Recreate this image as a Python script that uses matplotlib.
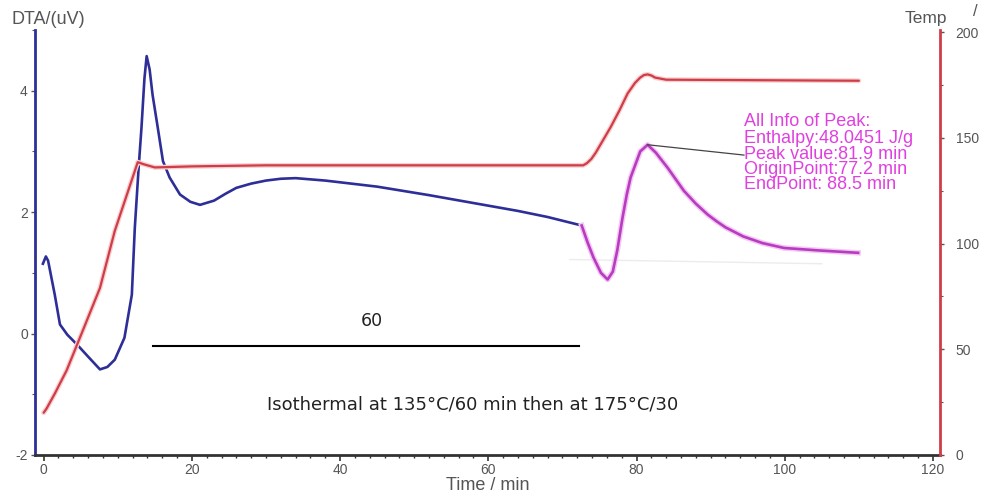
import matplotlib
matplotlib.use("Agg")
import matplotlib.pyplot as plt
import matplotlib.patheffects as pe
from matplotlib.ticker import MultipleLocator

plt.rcParams["axes.unicode_minus"] = False

# ---------------- data ----------------
dta_t = [-0.1, 0.3, 0.6, 1.5, 2.2, 3.2, 4.5, 6.0, 7.6, 8.6, 9.6, 10.9, 11.9, 12.3,
         12.8, 13.2, 13.6, 13.9, 14.3, 14.7, 15.4, 16.1, 17.0, 18.4, 19.8, 21.1,
         23.0, 24.5, 26.0, 28.0, 30.0, 32.0, 34.0, 38.0, 45.0, 52.0, 58.0, 64.0, 68.0, 72.6]
dta_v = [1.15, 1.27, 1.2, 0.64, 0.15, -0.02, -0.18, -0.38, -0.59, -0.55, -0.43, -0.07, 0.64, 1.74,
         2.7, 3.39, 4.2, 4.57, 4.35, 3.93, 3.39, 2.84, 2.57, 2.29, 2.17, 2.12,
         2.19, 2.3, 2.4, 2.47, 2.52, 2.55, 2.56, 2.52, 2.42, 2.28, 2.15, 2.02, 1.92, 1.78]

peak_t = [72.6, 73.4, 74.2, 75.2, 76.1, 76.8, 77.4, 78.1, 78.7, 79.2, 80.5, 81.5,
          82.6, 84.2, 85.3, 86.4, 88.0, 89.6, 90.8, 92.0, 94.4, 97.0, 99.9, 104.5, 109.9]
peak_v = [1.78, 1.5, 1.25, 1.0, 0.89, 1.02, 1.37, 1.9, 2.3, 2.57, 3.0, 3.11,
          2.98, 2.73, 2.54, 2.35, 2.14, 1.96, 1.85, 1.75, 1.6, 1.49, 1.41, 1.37, 1.33]

temp_t = [0.0, 0.4, 1.5, 3.1, 5.3, 7.6, 9.6, 12.7, 13.5, 15.0, 20.0, 30.0, 72.8,
          73.3, 73.9, 74.5, 75.5, 76.5, 77.7, 78.8, 79.8, 80.5, 81.0, 81.5, 82.0, 82.5, 84.0, 110.0]
temp_v = [20, 22, 29, 40, 59, 79, 106, 138.5, 137.5, 136, 136.5, 137, 137,
          138, 140, 143, 149, 155, 163, 171, 176, 178.5, 179.7, 180, 179.5, 178.5, 177.5, 177]

baseline_t = [71.0, 105.0]
baseline_v = [1.22, 1.15]

peak_info = ["All Info of Peak:", "Enthalpy:48.0451 J/g", "Peak value:81.9 min",
             "OriginPoint:77.2 min", "EndPoint: 88.5 min"]

x_ticks = [0, 20, 40, 60, 80, 100, 120]
left_ticks = [-2, 0, 2, 4]
right_ticks = [0, 50, 100, 150, 200]

# ---------------- figure ----------------
BLUE = "#2e2e98"
RED = "#d03c48"
MAG = "#b83cc0"
TXT = "#555555"

fig = plt.figure(figsize=(9.93, 5.0), dpi=100)
ax = fig.add_axes([0.035, 0.09, 0.912, 0.85])
ax2 = ax.twinx()

ax.set_xlim(-1.2, 121)
ax.set_ylim(-2, 5)
ax2.set_ylim(0, 201)

# baseline (faint)
ax.plot(baseline_t, baseline_v, color="#ececec", lw=1.0, zorder=1)

# temperature
ax2.plot(temp_t, temp_v, color=RED, lw=1.6, solid_capstyle="round",
         path_effects=[pe.Stroke(linewidth=3.5, foreground="#f6d0d0"), pe.Normal()])

# DTA
ax.plot(dta_t, dta_v, color=BLUE, lw=1.9, zorder=3)
ax.plot(peak_t, peak_v, color=MAG, lw=1.9, zorder=3,
        path_effects=[pe.Stroke(linewidth=4, foreground="#f4c8f4"), pe.Normal()])

# pointer line from peak to text
ax.plot([81.5, 94.5], [3.11, 2.94], color="#444444", lw=0.9, zorder=4)

info_y = [3.50, 3.22, 2.95, 2.70, 2.45]
for s, yv in zip(peak_info, info_y):
    ax.text(94.5, yv, s, color="#e040e0", fontsize=13, family="Liberation Sans",
            va="center", ha="left", zorder=5)

# isothermal annotation
ax.plot([14.7, 72.2], [-0.21, -0.21], color="black", lw=1.5)
ax.text(44.3, 0.21, "60", fontsize=12.5, ha="center", va="center", color="#222222")
ax.text(30.1, -1.17, "Isothermal at 135°C/60 min then at 175°C/30", fontsize=13,
        ha="left", va="center", color="#222222")

# spines
ax.spines["top"].set_visible(False)
ax.spines["right"].set_visible(False)
ax.spines["left"].set_color(BLUE)
ax.spines["left"].set_linewidth(2)
ax.spines["bottom"].set_color("#333333")
ax.spines["bottom"].set_linewidth(2)
for s in ["top", "left", "bottom"]:
    ax2.spines[s].set_visible(False)
ax2.spines["right"].set_color(RED)
ax2.spines["right"].set_linewidth(2)

ax.set_xticks(x_ticks)
ax.set_yticks(left_ticks)
ax2.set_yticks(right_ticks)
ax.xaxis.set_minor_locator(MultipleLocator(2))
ax.yaxis.set_minor_locator(MultipleLocator(1))
ax2.yaxis.set_minor_locator(MultipleLocator(25))

ax.tick_params(axis="x", which="major", length=4, width=1.2, color="#333333",
               labelsize=10, labelcolor=TXT, pad=2)
ax.tick_params(axis="x", which="minor", length=2.5, width=1, color="#333333")
ax.tick_params(axis="y", which="major", length=3, width=1, color="#555555",
               labelsize=10, labelcolor=TXT, pad=2)
ax.tick_params(axis="y", which="minor", length=2, width=0.8, color="#555555")
ax2.tick_params(axis="y", which="major", length=3, width=1, color="#555555",
                labelsize=10, labelcolor=TXT, pad=8)
ax2.tick_params(axis="y", which="minor", length=2, width=0.8, color="#555555")
for lab in ax.get_xticklabels() + ax.get_yticklabels() + ax2.get_yticklabels():
    lab.set_family("Liberation Sans")

ax.set_xlabel("Time / min", fontsize=13, color=TXT, family="Liberation Sans", labelpad=0)
fig.text(0.012, 0.96, "DTA/(uV)", fontsize=13, color=TXT, family="Liberation Sans",
         ha="left", va="center")
fig.text(0.911, 0.964, "Temp", fontsize=12.5, color=TXT, family="Liberation Sans",
         ha="left", va="center")
fig.text(0.982, 0.976, "/", fontsize=12, color=TXT, family="Liberation Sans",
         ha="center", va="center")

fig.savefig("out.png", dpi=100)
